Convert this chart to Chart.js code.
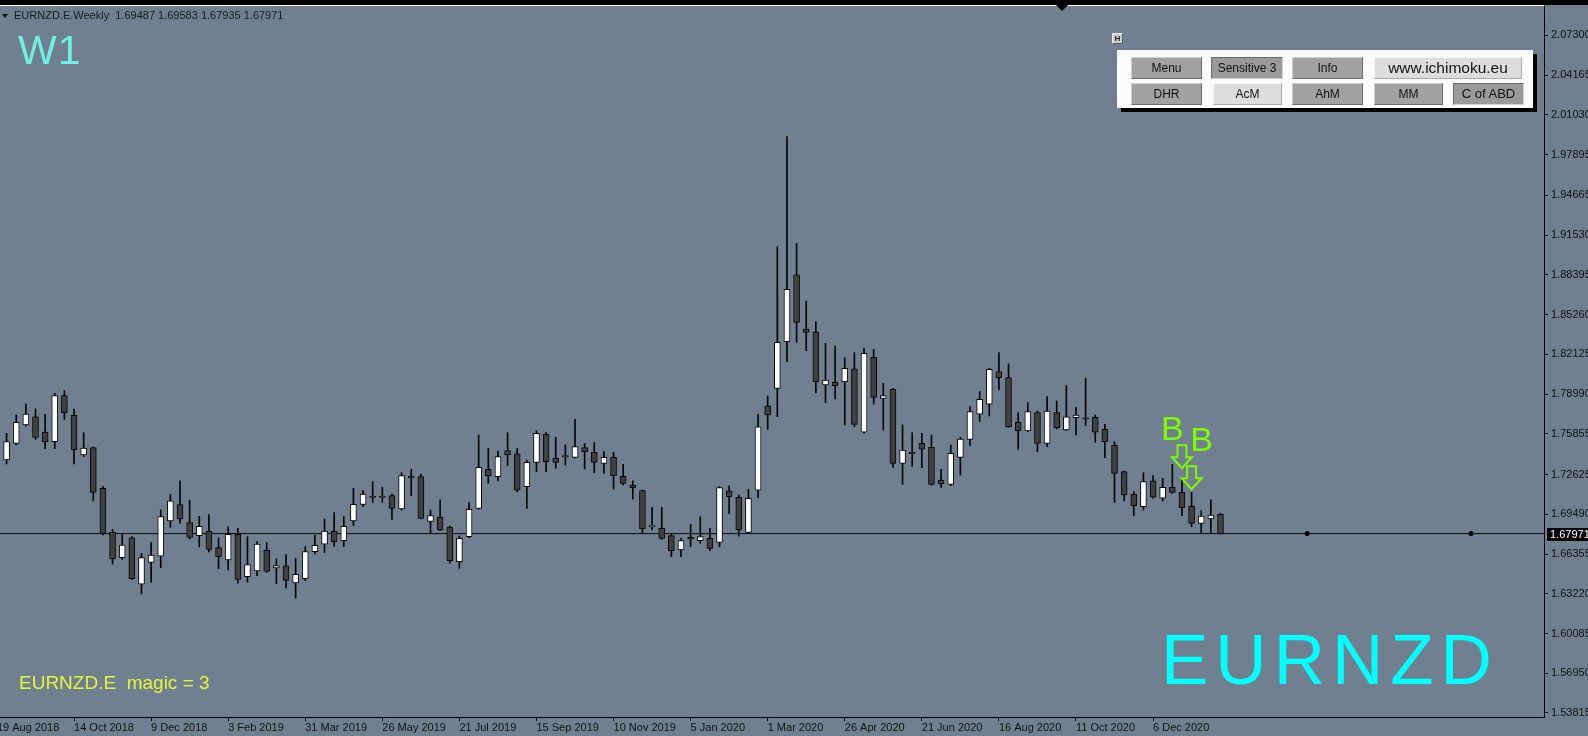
<!DOCTYPE html>
<html>
<head>
<meta charset="utf-8">
<title>EURNZD.E Weekly</title>
<script src="https://cdn.jsdelivr.net/npm/chart.js@4.4.1/dist/chart.umd.min.js"></script>
<style>
  html, body { margin:0; padding:0; background:#708090; overflow:hidden; }
  #wrap { position:relative; width:1588px; height:736px; background:#708090; }
  #c { position:absolute; left:0; top:0; }
  .t { position:absolute; white-space:pre; font-family:"Liberation Sans", Arial, sans-serif; }
  #hdr { left:14px; top:10px; font-size:11px; line-height:11px; color:#1b1b1b; }
  #w1 { left:18px; top:30px; font-size:41px; line-height:41px; color:#6EF0E4; letter-spacing:1px; }
  #sym { left:1161px; top:624px; font-size:71px; line-height:71px; color:#00FFFF; letter-spacing:7px; }
  #magic { left:19px; top:673px; font-size:19px; line-height:19px; color:#E6F53A; }
  #panel { position:absolute; left:1117px; top:50px; width:416px; height:58px; background:#fbfbfb; box-shadow:4px 4px 0 #000; }
  .btn { position:absolute; height:22px; line-height:20px; text-align:center; box-sizing:border-box;
         font-family:"Liberation Sans", Arial, sans-serif; font-size:12px; color:#111; white-space:nowrap;
         background:#a2a2a2; border:1px solid; border-color:#cfcfcf #6c6c6c #6c6c6c #cfcfcf; }
  .btn.dn { background:#9a9a9a; border-color:#6a6a6a #d2d2d2 #d2d2d2 #6a6a6a; }
  .btn.lt { background:#dddddd; border-color:#f6f6f6 #a9a9a9 #a9a9a9 #f6f6f6; }
  #hbtn { position:absolute; left:1112px; top:33px; width:11px; height:11px; box-sizing:border-box; background:#cfcfcf;
          border:1px solid; border-color:#f0f0f0 #5a5a5a #5a5a5a #f0f0f0; font:bold 8px/9px "Liberation Sans", Arial, sans-serif; text-align:center; color:#222; }
</style>
</head>
<body>
<div id="wrap">
  <canvas id="c" width="1588" height="736"></canvas>
  <div class="t" id="hdr"></div>
  <div class="t" id="w1">W1</div>
  <div class="t" id="sym">EURNZD</div>
  <div class="t" id="magic">EURNZD.E  magic = 3</div>
  <div id="hbtn">H</div>
  <div id="panel"></div>
  <div class="btn" style="left:1131px;top:57px;width:71px;">Menu</div>
  <div class="btn dn" style="left:1211px;top:57px;width:72px;">Sensitive 3</div>
  <div class="btn" style="left:1292px;top:57px;width:71px;">Info</div>
  <div class="btn lt" style="left:1374px;top:57px;width:148px;font-size:15.5px;">www.ichimoku.eu</div>
  <div class="btn" style="left:1131px;top:83px;width:71px;">DHR</div>
  <div class="btn lt" style="left:1213px;top:83px;width:69px;">AcM</div>
  <div class="btn" style="left:1292px;top:83px;width:71px;">AhM</div>
  <div class="btn" style="left:1374px;top:83px;width:69px;">MM</div>
  <div class="btn dn" style="left:1453px;top:83px;width:71px;font-size:13px;">C of ABD</div>
</div>
<script>
// ---------------- data (weekly bars, first visible bar = 26 Aug 2018) ----------------
const symbol = 'EURNZD.E';
const open = [
  1.7378,1.7510,1.7655,1.7720,1.7599,1.7523,1.7886,1.7731,1.7418,1.7476,
  1.7155,1.6807,1.6607,1.6763,1.6399,1.6570,1.6620,1.6897,1.7026,1.6884,
  1.6781,1.6818,1.6686,1.6589,1.6792,1.6457,1.6502,1.6665,1.6526,1.6542,
  1.6407,1.6442,1.6655,1.6713,1.6818,1.6742,1.6897,1.7028,1.7092,1.7092,
  1.7097,1.6992,1.7250,1.7247,1.6894,1.6926,1.6849,1.6576,1.6773,1.6997,
  1.7305,1.7247,1.7452,1.7426,1.7168,1.7360,1.7581,1.7391,1.7413,1.7399,
  1.7476,1.7439,1.7352,1.7399,1.7249,1.7181,1.7136,1.6850,1.6839,1.6781,
  1.6668,1.6768,1.6742,1.6760,1.6728,1.7134,1.7084,1.6807,1.7141,1.7805,
  1.7944,1.8312,1.8839,1.8412,1.8391,1.7970,1.7991,1.7997,1.8097,1.7597,
  1.8189,1.7865,1.7936,1.7352,1.7438,1.7510,1.7478,1.7220,1.7186,1.7399,
  1.7541,1.7741,1.7818,1.8076,1.8028,1.7676,1.7607,1.7752,1.7510,1.7752,
  1.7615,1.7712,1.7712,1.7715,1.7620,1.7497,1.7286,1.7107,1.7010,1.7213,
  1.7076,1.7163,1.7123,1.7015,1.6878,1.6913,1.69487];
const high = [
  1.7589,1.7734,1.7820,1.7781,1.7739,1.7905,1.7926,1.7781,1.7594,1.7480,
  1.7168,1.6831,1.6794,1.6773,1.6642,1.6726,1.6984,1.7107,1.7213,1.7060,
  1.6934,1.6947,1.6763,1.6852,1.6839,1.6773,1.6734,1.6726,1.6599,1.6631,
  1.6602,1.6694,1.6784,1.6913,1.6963,1.6931,1.7155,1.7136,1.7207,1.7163,
  1.7110,1.7278,1.7305,1.7268,1.6984,1.7063,1.6857,1.6778,1.7042,1.7576,
  1.7470,1.7449,1.7594,1.7470,1.7378,1.7610,1.7594,1.7557,1.7497,1.7699,
  1.7510,1.7518,1.7444,1.7439,1.7344,1.7213,1.7141,1.7005,1.7005,1.6799,
  1.6760,1.6870,1.6931,1.6839,1.7168,1.7173,1.7102,1.7147,1.7739,1.7884,
  1.9062,1.9931,1.9089,1.8633,1.8470,1.8299,1.8278,1.8186,1.8226,1.8260,
  1.8252,1.7984,1.7944,1.7655,1.7594,1.7589,1.7576,1.7305,1.7497,1.7557,
  1.7799,1.7918,1.8102,1.8226,1.8136,1.7752,1.7831,1.7765,1.7878,1.7844,
  1.7965,1.7794,1.8023,1.7734,1.7660,1.7523,1.7290,1.7128,1.7278,1.7255,
  1.7234,1.7344,1.7241,1.7123,1.6978,1.7063,1.69583];
const low = [
  1.7347,1.7497,1.7647,1.7541,1.7468,1.7468,1.7699,1.7347,1.7405,1.7055,
  1.6786,1.6557,1.6594,1.6436,1.6321,1.6413,1.6528,1.6847,1.6878,1.6755,
  1.6692,1.6652,1.6520,1.6510,1.6405,1.6413,1.6465,1.6492,1.6402,1.6368,
  1.6289,1.6426,1.6636,1.6649,1.6699,1.6694,1.6860,1.7010,1.7044,1.7044,
  1.6910,1.6984,1.7097,1.6913,1.6799,1.6820,1.6563,1.6523,1.6765,1.6990,
  1.7194,1.7213,1.7334,1.7128,1.6997,1.7286,1.7286,1.7313,1.7339,1.7395,
  1.7307,1.7278,1.7273,1.7147,1.7181,1.7070,1.6805,1.6826,1.6752,1.6615,
  1.6615,1.6694,1.6720,1.6663,1.6694,1.6957,1.6778,1.6799,1.7081,1.7620,
  1.7720,1.8155,1.8307,1.8241,1.7910,1.7831,1.7860,1.7655,1.7641,1.7590,
  1.7820,1.7615,1.7320,1.7186,1.7326,1.7318,1.7180,1.7162,1.7176,1.7260,
  1.7489,1.7681,1.7726,1.7931,1.7636,1.7462,1.7602,1.7444,1.7483,1.7623,
  1.7612,1.7576,1.7649,1.7518,1.7397,1.7044,1.7055,1.6939,1.6984,1.7076,
  1.7055,1.7115,1.6939,1.6852,1.6799,1.6799,1.67935];
const close = [
  1.7523,1.7676,1.7741,1.7557,1.7523,1.7886,1.7752,1.7457,1.7473,1.7123,
  1.6799,1.6597,1.6707,1.6442,1.6607,1.6628,1.6931,1.7055,1.6913,1.6768,
  1.6855,1.6673,1.6615,1.6792,1.6436,1.6552,1.6715,1.6499,1.6544,1.6428,
  1.6476,1.6655,1.6705,1.6818,1.6734,1.6855,1.7028,1.7110,1.7082,1.7082,
  1.6997,1.7255,1.7237,1.6918,1.6939,1.6826,1.6584,1.6760,1.6989,1.7320,
  1.7255,1.7405,1.7418,1.7141,1.7360,1.7589,1.7365,1.7360,1.7400,1.7484,
  1.7444,1.7360,1.7399,1.7255,1.7194,1.7160,1.6834,1.6865,1.6760,1.6660,
  1.6742,1.6753,1.6773,1.6681,1.7160,1.7089,1.6826,1.7076,1.7641,1.7734,
  1.8307,1.8726,1.8465,1.8386,1.7997,1.8010,1.7965,1.8102,1.7660,1.8220,
  1.7873,1.7886,1.7352,1.7457,1.7428,1.7463,1.7186,1.7189,1.7431,1.7544,
  1.7760,1.7857,1.8094,1.8028,1.7641,1.7607,1.7760,1.7510,1.7765,1.7633,
  1.7720,1.7733,1.7700,1.7597,1.7523,1.7273,1.7102,1.7018,1.7207,1.7084,
  1.7163,1.7123,1.7002,1.6878,1.6936,1.6944,1.67971];

// x-axis tick labels and the bar numbers they sit on
const xTickLabels = ['19 Aug 2018','14 Oct 2018','9 Dec 2018','3 Feb 2019','31 Mar 2019','26 May 2019',
  '21 Jul 2019','15 Sep 2019','10 Nov 2019','5 Jan 2020','1 Mar 2020','26 Apr 2020','21 Jun 2020',
  '16 Aug 2020','11 Oct 2020','6 Dec 2020'];
const xTickBars = [-1,7,15,23,31,39,47,55,63,71,79,87,95,103,111,119];
// y-axis tick labels
const yTickLabels = ['2.07300','2.04165','2.01030','1.97895','1.94665','1.91530','1.88395','1.85260',
  '1.82125','1.78990','1.75855','1.72625','1.69490','1.66355','1.63220','1.60085','1.56950','1.53815'];
// signals (arrow tip price) and their labels
const signalBars = [122, 123];
const signalTips = [1.7313, 1.7147];
const signalText = ['B', 'B'];
// marker dots on the price line
const dotBars = [135, 152];

// ---------------- chart ----------------
const lastClose = close[close.length - 1];
const n = open.length;
const bars = open.map((_, i) => i);
const FONT = '"Liberation Sans", Arial, sans-serif';

document.getElementById('hdr').textContent = symbol + '.Weekly  ' +
  [open[n-1], high[n-1], low[n-1], close[n-1]].map(v => v.toFixed(5)).join(' ');

const X_MIN = -0.685, X_MAX = 159.58;
const Y_MIN = 1.53495, Y_MAX = 2.09621;

const decor = {
  id: 'decor',
  afterDraw(chart) {
    const ctx = chart.ctx, xs = chart.scales.x, ys = chart.scales.y;
    ctx.save();
    ctx.fillStyle = '#000';
    ctx.fillRect(0, 0, 1588, 5);
    ctx.fillStyle = '#ffffff';
    ctx.fillRect(0, 5, 1544, 1);
    ctx.fillStyle = '#000';
    ctx.beginPath(); ctx.moveTo(1056, 5); ctx.lineTo(1068, 5); ctx.lineTo(1062, 11); ctx.closePath(); ctx.fill();
    ctx.fillStyle = '#111';
    ctx.beginPath(); ctx.moveTo(2, 14); ctx.lineTo(8, 14); ctx.lineTo(5, 18); ctx.closePath(); ctx.fill();
    // current price label
    const py = Math.round(ys.getPixelForValue(lastClose));
    ctx.fillStyle = '#000';
    ctx.fillRect(1547, py - 6, 41, 13);
    ctx.fillStyle = '#fff';
    ctx.font = '11px ' + FONT; ctx.textAlign = 'left'; ctx.textBaseline = 'middle';
    ctx.fillText(lastClose.toFixed(5), 1550, py + 0.5);
    // signal arrows
    ctx.strokeStyle = '#7CFC00'; ctx.lineWidth = 2; ctx.lineJoin = 'miter';
    const bOff = [[-9.5, -28], [10, -38]];
    signalBars.forEach((b, k) => {
      const cx = xs.getPixelForValue(b), tip = ys.getPixelForValue(signalTips[k]);
      ctx.beginPath();
      ctx.moveTo(cx - 4.5, tip - 23); ctx.lineTo(cx + 4.5, tip - 23); ctx.lineTo(cx + 4.5, tip - 11);
      ctx.lineTo(cx + 10, tip - 11); ctx.lineTo(cx, tip); ctx.lineTo(cx - 10, tip - 11);
      ctx.lineTo(cx - 4.5, tip - 11); ctx.closePath(); ctx.stroke();
      ctx.fillStyle = '#7CFC00'; ctx.font = '34px ' + FONT; ctx.textAlign = 'center'; ctx.textBaseline = 'alphabetic';
      ctx.fillText(signalText[k], cx + bOff[k][0], tip + bOff[k][1]);
    });
    ctx.restore();
  }
};

new Chart(document.getElementById('c'), {
  type: 'bar',
  data: {
    datasets: [
      { type: 'line', label: 'Bid', data: [{x: X_MIN - 2, y: lastClose}, {x: X_MAX + 2, y: lastClose}],
        borderColor: '#0a0a0a', borderWidth: 1, pointRadius: 0, order: 5 },
      { label: 'Wick', data: bars.map(i => ({x: i, y: [low[i], high[i]]})), grouped: false,
        barThickness: 1, maxBarThickness: 1, backgroundColor: '#050505', borderWidth: 0, order: 4 },
      { label: 'Body', data: bars.map(i => ({x: i, y: [open[i], close[i]]})), grouped: false,
        barThickness: 6, maxBarThickness: 6, borderSkipped: false, borderWidth: 1, borderColor: '#050505',
        backgroundColor: c => close[c.dataIndex] >= open[c.dataIndex] ? '#ffffff' : '#404040', order: 3 },
      { type: 'scatter', label: 'Dots', data: dotBars.map(b => ({x: b, y: lastClose})),
        pointRadius: 2.5, backgroundColor: '#000', borderWidth: 0, order: 1 }
    ]
  },
  options: {
    responsive: false, animation: false, devicePixelRatio: 1,
    layout: { autoPadding: false, padding: { left: 0, right: 0, top: 6, bottom: 0 } },
    plugins: { legend: { display: false }, tooltip: { enabled: false } },
    scales: {
      x: {
        type: 'linear', min: X_MIN, max: X_MAX, bounds: 'data', offset: false,
        grid: { drawOnChartArea: false, drawTicks: true, tickLength: 4, color: '#000', offset: false },
        border: { display: true, color: '#000', width: 1 },
        ticks: { autoSkip: false, maxRotation: 0, minRotation: 0, align: 'start', padding: 0, color: '#111',
                 font: { family: FONT, size: 11 }, callback: (v, i) => xTickLabels[i] },
        afterBuildTicks: s => { s.ticks = xTickBars.map(v => ({ value: v })); },
        afterFit: s => { s.height = 19; s.paddingLeft = 0; s.paddingRight = 0; s.paddingTop = 0; s.paddingBottom = 0; }
      },
      y: {
        type: 'linear', position: 'right', min: Y_MIN, max: Y_MAX, bounds: 'data',
        grid: { drawOnChartArea: false, drawTicks: true, tickLength: 4, color: '#000' },
        border: { display: true, color: '#000', width: 1 },
        ticks: { autoSkip: false, padding: 3, color: '#111', font: { family: FONT, size: 11 },
                 callback: (v, i) => yTickLabels[i] },
        afterBuildTicks: s => { s.ticks = yTickLabels.map(v => ({ value: parseFloat(v) })); },
        afterFit: s => { s.width = 44; s.paddingLeft = 0; s.paddingRight = 0; s.paddingTop = 0; s.paddingBottom = 0; }
      }
    }
  },
  plugins: [decor]
});
</script>
</body>
</html>
